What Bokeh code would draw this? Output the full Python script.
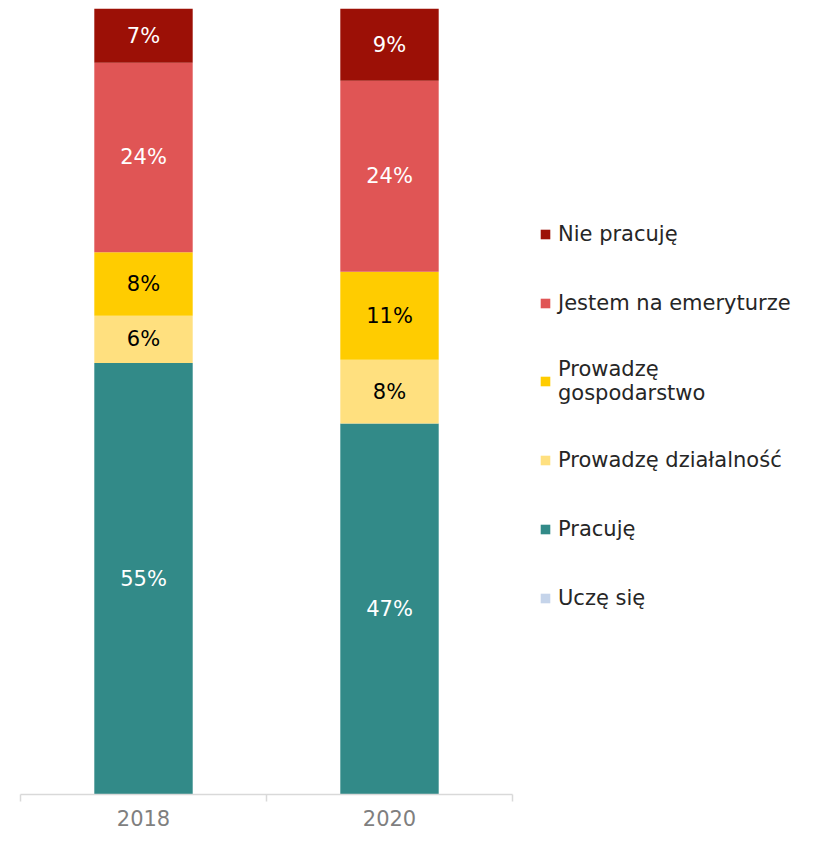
import numpy as np
from bokeh.plotting import figure
from bokeh.models import Range1d, FixedTicker, Legend, LegendItem, ColumnDataSource
from bokeh.core.properties import value
from bokeh.embed import file_html
from bokeh.resources import INLINE

years = ["2018", "2020"]
# stack order, bottom to top
series = ["Uczę się", "Pracuję", "Prowadzę działalność", "Prowadzę\ngospodarstwo",
          "Jestem na emeryturze", "Nie pracuję"]
colors = ["#C5D4EA", "#328A88", "#FFE07F", "#FFCC00", "#E05555", "#9C1006"]
label_colors = ["white", "white", "black", "black", "white", "white"]
ucze_sie = [0.0, 0.0]
pracuje = [54.9, 47.2]
dzialalnosc = [6.0, 8.1]
gospodarstwo = [8.1, 11.2]
emerytura = [24.1, 24.3]
nie_pracuje = [6.9, 9.2]

values = [ucze_sie, pracuje, dzialalnosc, gospodarstwo, emerytura, nie_pracuje]
FONT = "DejaVu Sans"

W, H = 798, 836
LEFT, TOP, BOTTOM = 20, 8, 42
CAT_PX = 246  # pixel width of one category slot
frame_w = W - LEFT

xs = [i + 0.5 for i in range(len(years))]
data = {"x": xs}
keys = []
for k, v in enumerate(values):
    key = "s%d" % k
    keys.append(key)
    data[key] = v
source = ColumnDataSource(data)

p = figure(width=W, height=H, output_backend="svg", toolbar_location=None,
           x_range=Range1d(0, frame_w / CAT_PX), y_range=Range1d(0, 100),
           min_border_left=LEFT, min_border_right=0, min_border_top=TOP, min_border_bottom=BOTTOM)
p.outline_line_color = None
p.grid.visible = False
p.yaxis.visible = False
p.background_fill_color = "white"

renderers = p.vbar_stack(keys, x="x", width=0.4, source=source, color=colors, line_color=None)

# segment labels
arr = np.array(values)
cum = np.cumsum(arr, axis=0)
lx, ly, lt, lc = [], [], [], []
for k in range(arr.shape[0]):
    for j in range(arr.shape[1]):
        if arr[k, j] <= 0:
            continue
        lx.append(xs[j])
        ly.append(cum[k, j] - arr[k, j] / 2)
        lt.append("%d%%" % round(arr[k, j]))
        lc.append(label_colors[k])
p.text(x=lx, y=ly, text=lt, text_color=lc, text_align="center", text_baseline="middle",
       text_font=value(FONT), text_font_size="21px")

ax = p.xaxis[0]
ax.bounds = (0, len(years))
ax.ticker = FixedTicker(ticks=xs, minor_ticks=list(range(len(years) + 1)))
ax.major_label_overrides = {x: y for x, y in zip(xs, years)}
ax.axis_line_color = "#D9D9D9"
ax.axis_line_width = 1.5
ax.major_tick_out = 0
ax.major_tick_in = 0
ax.minor_tick_out = 7
ax.minor_tick_in = 0
ax.minor_tick_line_color = "#D9D9D9"
ax.minor_tick_line_width = 1.5
ax.major_label_standoff = 8
ax.major_label_text_font = FONT
ax.major_label_text_font_size = "21px"
ax.major_label_text_color = "#7F7F7F"

items = [LegendItem(label=series[k], renderers=[renderers[k]]) for k in reversed(range(len(series)))]
legend = Legend(items=items, location=(519, 182), orientation="vertical",
                glyph_width=12, glyph_height=12, label_standoff=7,
                label_text_font=FONT, label_text_font_size="21px", label_text_color="#262626",
                label_height=29, spacing=40, padding=0, margin=0,
                border_line_color=None, background_fill_alpha=0)
p.add_layout(legend, "center")

open("out.html", "w").write(file_html(p, INLINE))
